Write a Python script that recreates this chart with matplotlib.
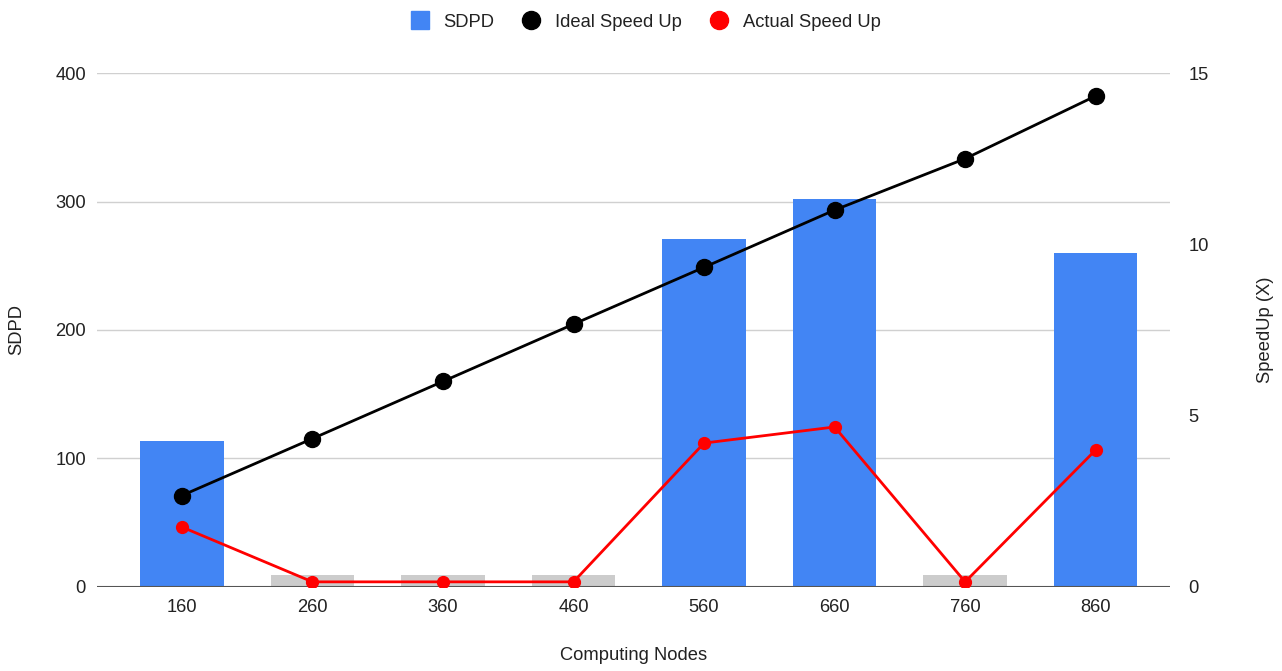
import matplotlib
matplotlib.use("Agg")
import matplotlib.pyplot as plt
from matplotlib.lines import Line2D

plt.rcParams['font.family'] = ['Liberation Sans', 'DejaVu Sans']

nodes = ["160", "260", "360", "460", "560", "660", "760", "860"]
sdpd = [114, 9.5, 9.5, 9.5, 271, 302, 9.5, 260]
sdpd_missing = [False, True, True, True, False, False, True, False]
ideal_speedup = [2.67, 4.33, 6.0, 7.67, 9.33, 11.0, 12.5, 14.33]
actual_speedup = [1.75, 0.15, 0.15, 0.15, 4.2, 4.67, 0.15, 4.0]

BLUE = "#4285f4"
GREY = "#cccccc"
TXT = "#222222"
FS = 13.2

fig = plt.figure(figsize=(12.82, 6.71), dpi=100)
ax = fig.add_axes([0.0757, 0.1252, 0.8370, 0.7660])
ax2 = ax.twinx()

x = list(range(len(nodes)))
colors = [GREY if m else BLUE for m in sdpd_missing]
ax.bar(x, sdpd, width=0.64, color=colors, zorder=2)

ax.set_ylim(0, 400)
ax.set_yticks([0, 100, 200, 300, 400])
ax.set_xlim(-0.65, 7.57)
ax.set_xticks(x)
ax.set_xticklabels(nodes)
ax.grid(axis='y', color='#d0d0d0', linewidth=1, zorder=0)
ax.set_axisbelow(True)

ax2.plot(x, ideal_speedup, color='black', linewidth=2, marker='o',
         markersize=11.5, zorder=4)
ax2.plot(x, actual_speedup, color='#ff0000', linewidth=2, marker='o',
         markersize=8.5, zorder=5)
ax2.set_ylim(0, 15)
ax2.set_yticks([0, 5, 10, 15])

for a in (ax, ax2):
    for s in a.spines.values():
        s.set_visible(False)
    a.tick_params(length=0, labelsize=FS, colors=TXT)
ax.tick_params(axis='y', pad=8)
ax.tick_params(axis='x', pad=9)
ax2.tick_params(axis='y', pad=13)
ax.axhline(0, color='#555555', linewidth=1.5, zorder=6)

ax.set_ylabel("SDPD", fontsize=FS, color=TXT, labelpad=22)
ax2.set_ylabel("SpeedUp (X)", fontsize=FS, color=TXT, labelpad=35, rotation=90)
ax.set_xlabel("Computing Nodes", fontsize=FS, color=TXT, labelpad=22)

handles = [
    Line2D([], [], linestyle='none', marker='s', markersize=13, color=BLUE),
    Line2D([], [], linestyle='none', marker='o', markersize=13, color='black'),
    Line2D([], [], linestyle='none', marker='o', markersize=13, color='#ff0000'),
]
fig.legend(handles, ["SDPD", "Ideal Speed Up", "Actual Speed Up"],
           loc='center', bbox_to_anchor=(0.5, 0.967), ncol=3, frameon=False,
           fontsize=FS, handletextpad=0.3, columnspacing=1.0,
           labelcolor=TXT)

fig.savefig("out.png", dpi=100, facecolor='white')
